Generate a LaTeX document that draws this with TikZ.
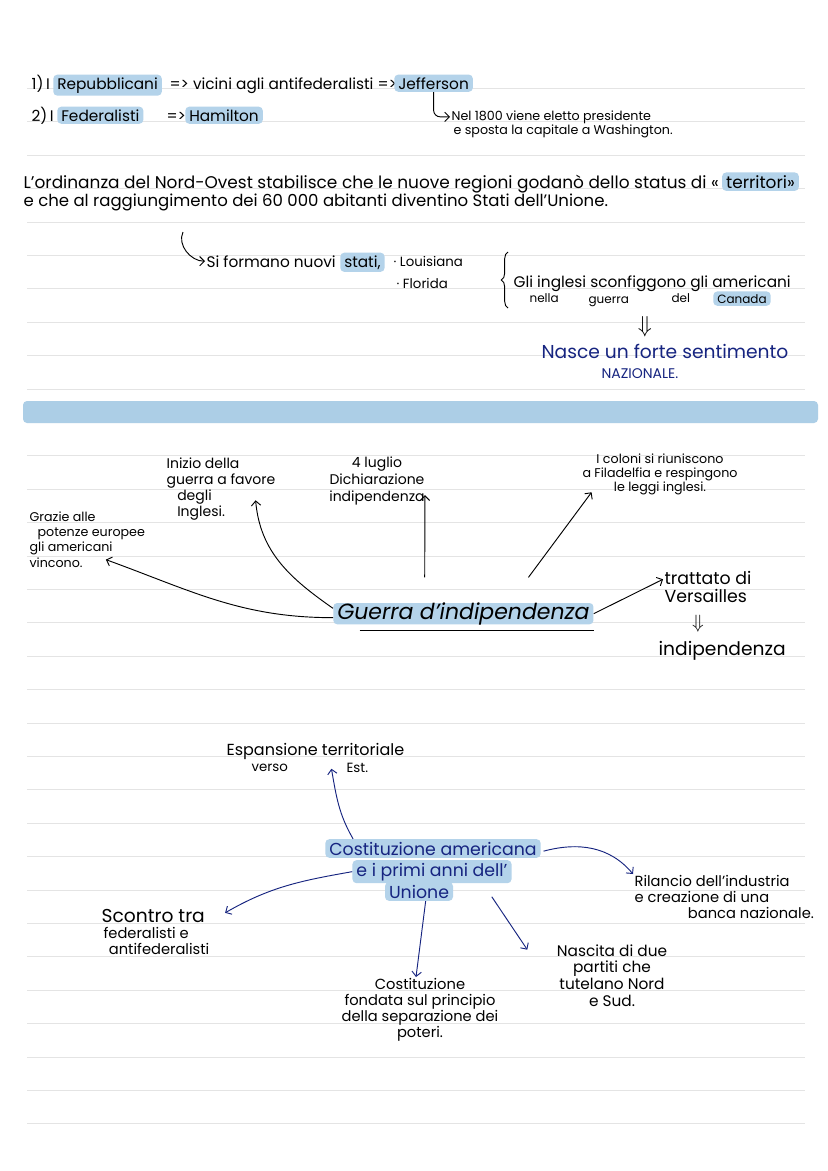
\documentclass[tikz,border=0pt]{standalone}
\usepackage{fontspec}
\setmainfont{Poppins}
\usetikzlibrary{positioning,arrows.meta,decorations.pathreplacing}
\definecolor{hlblue}{RGB}{180,211,234}
\definecolor{barblue}{RGB}{172,206,230}
\definecolor{inkblue}{RGB}{22,36,128}
\definecolor{ruled}{RGB}{228,228,228}
\tikzset{
  hand/.style={inner sep=1pt, font=\fontsize{11.5}{13}\selectfont},
  small/.style={inner sep=1pt, font=\fontsize{9.5}{10.5}\selectfont},
  marked/.style={fill=hlblue, rounded corners=3pt, inner xsep=3pt, inner ysep=2pt},
  ink/.style={text=inkblue},
  pen/.style={-{Straight Barb[length=3.5pt,width=7pt]}, line width=0.7pt},
  inkpen/.style={pen, draw=inkblue},
}

\begin{document}
\begin{tikzpicture}[x=0.75pt,y=0.75pt]
\useasboundingbox (0,0) rectangle (828,-1171);
\fill[white] (0,0) rectangle (828,-1171);
\foreach \k in {1,...,32}
  \draw[ruled, line width=0.6pt] (27,{-55-33.4*\k}) -- (805,{-55-33.4*\k});
\fill[barblue, rounded corners=3pt] (23,-401) rectangle (818,-423);

% partiti
\node[hand, anchor=base west] (one) at (30,-89) {1)\,I};
\node[hand, marked, anchor=base west] (repub) at (53,-89) {Repubblicani};
\node[hand, anchor=base west] (vicini) at (168,-89) {=> vicini agli antifederalisti =>};
\node[hand, marked, anchor=base west] (jeff) at (394,-89) {Jefferson};
\node[hand, anchor=base west] (two) at (30,-121) {2)\,I};
\node[hand, marked, anchor=base west] (feder) at (57,-121) {Federalisti};
\node[hand, anchor=base west] (arrtwo) at (165,-121) {=>};
\node[hand, marked, anchor=base west] (hamil) at (185,-121) {Hamilton};
\node[small, anchor=base west] (nelA) at (450,-120) {Nel 1800 viene eletto presidente};
\node[small, anchor=base west] (nelB) at (452,-134) {e sposta la capitale a Washington.};
\draw[pen, rounded corners=5pt] (jeff.south) |- (nelA.west);

% ordinanza
\node[hand, font=\fontsize{12.7}{14}\selectfont, anchor=base west] (ordA) at (22,-188) {L'ordinanza del Nord-Ovest stabilisce che le nuove regioni godanò dello status di «};
\node[hand, font=\fontsize{12.7}{14}\selectfont, marked, base right=1pt of ordA] (terr) {territori»};
\node[hand, font=\fontsize{12.4}{13}\selectfont, anchor=base west] (ordB) at (22,-206) {e che al raggiungimento dei 60 000 abitanti diventino Stati dell'Unione.};
\coordinate (sibrk) at (183,-232);
\node[hand, anchor=base west] (siform) at (205,-267) {Si formano nuovi};
\node[hand, marked, base right=2pt of siform] (stati) {stati,};
\node[hand, font=\fontsize{10}{11}\selectfont, anchor=base west] (louis) at (392,-266) {· Louisiana};
\node[hand, font=\fontsize{10}{11}\selectfont, anchor=base west] (flor) at (395,-288) {· Florida};
\draw[pen] (sibrk) to[out=-115,in=180] (siform.west);

% canada
\draw[line width=0.7pt, decorate, decoration={brace, amplitude=5pt}] (508,-308) -- (508,-252);
\node[hand, anchor=base west] (ingl) at (512,-287) {Gli inglesi sconfiggono gli americani};
\node[small, font=\fontsize{9}{10}\selectfont, anchor=base west] (nella) at (528,-302) {nella};
\node[small, font=\fontsize{9}{10}\selectfont, anchor=base west] (guerra) at (587,-303) {guerra};
\node[small, font=\fontsize{9}{10}\selectfont, anchor=base west] (delc) at (670,-302) {del};
\node[small, font=\fontsize{9}{10}\selectfont, marked, anchor=base west] (canada) at (713,-303) {Canada};
\node[font=\fontsize{16}{16}\selectfont] (dblA) at (645,-327) {$\Downarrow$};
\node[hand, ink, font=\fontsize{14}{16}\selectfont, anchor=base west] (nasce) at (540,-358) {Nasce un forte sentimento};
\node[hand, ink, font=\fontsize{10.5}{12}\selectfont, anchor=base west] (naz) at (600,-378) {NAZIONALE.};

% guerra d'indipendenza
\node[marked, font=\itshape\fontsize{16.5}{18}\selectfont, text height=10pt, text depth=2pt, anchor=base west] (indip) at (333,-619) {Guerra d'indipendenza};
\draw[line width=0.8pt] ([xshift=20pt,yshift=-4.5pt]indip.south west) -- ([yshift=-4.5pt]indip.south east);
\node[align=left, inner sep=1pt, font=\fontsize{9.5}{11.5}\selectfont, anchor=north west] (grazie) at (28,-510) {Grazie alle\\\hspace{6pt}potenze europee\\gli americani\\vincono.};
\node[align=left, inner sep=1pt, font=\fontsize{10.5}{12}\selectfont, anchor=north west] (inizio) at (165,-456) {Inizio della\\guerra a favore\\\hspace{8pt}degli\\\hspace{8pt}Inglesi.};
\node[align=center, inner sep=1pt, font=\fontsize{10.5}{13}\selectfont, anchor=north] (luglio) at (377,-455) {4 luglio\\Dichiarazione\\indipendenza};
\node[align=center, inner sep=1pt, font=\fontsize{9.5}{10.5}\selectfont, anchor=north] (coloni) at (660,-452) {I coloni si riuniscono\\a Filadelfia e respingono\\le leggi inglesi.};
\node[align=left, inner sep=1pt, font=\fontsize{13}{13.5}\selectfont, anchor=north west] (tratt) at (663,-570) {trattato di\\Versailles};
\node[font=\fontsize{15}{15}\selectfont] (dblB) at (698,-624) {$\Downarrow$};
\node[hand, font=\fontsize{14}{16}\selectfont, anchor=base west] (indi) at (657,-655) {indipendenza};
\draw[pen] ([yshift=-3pt]indip.west) to[out=180,in=-20] ([xshift=14pt,yshift=7pt]grazie.south);
\draw[pen] ([yshift=4pt]indip.west) to[out=145,in=-85] ([xshift=-16pt,yshift=16pt]inizio.south east);
\draw[pen] ([xshift=-29pt,yshift=19pt]indip.north) -- ([xshift=-1pt,yshift=9pt]luglio.south east);
\draw[pen] ([xshift=-49pt,yshift=19pt]indip.north east) -- ([xshift=8pt,yshift=3pt]coloni.south west);
\draw[pen] (indip.east) -- ([yshift=6pt]tratt.west);

% costituzione
\node[hand, font=\fontsize{12}{13}\selectfont, anchor=base west] (espan) at (225,-755) {Espansione territoriale};
\node[hand, font=\fontsize{10}{11}\selectfont, anchor=base west] (verso) at (250,-771) {verso};
\node[hand, font=\fontsize{10}{11}\selectfont, anchor=base west] (est) at (345,-772) {Est.};
\node[hand, ink, marked, font=\fontsize{13}{14}\selectfont, anchor=base] (costC) at (419,-898) {Unione};
\node[hand, ink, marked, font=\fontsize{13}{14}\selectfont, anchor=base] (costB) at (432,-876) {e i primi anni dell'};
\node[hand, ink, marked, font=\fontsize{13}{14}\selectfont, anchor=base] (costA) at (433,-855) {Costituzione americana};
\node[hand, font=\fontsize{14}{15}\selectfont, anchor=base west] (scontro) at (100,-922) {Scontro tra};
\node[align=left, inner sep=1pt, font=\fontsize{11}{12}\selectfont, anchor=north west] (scontroB) at (102,-926) {federalisti e\\\hspace{4pt}antifederalisti};
\node[align=center, inner sep=1pt, font=\fontsize{11}{12}\selectfont, anchor=north] (separ) at (420,-977) {Costituzione\\fondata sul principio\\della separazione dei\\poteri.};
\node[align=center, inner sep=1pt, font=\fontsize{11.5}{12.5}\selectfont, anchor=north] (nascita) at (612,-943) {Nascita di due\\partiti che\\tutelano Nord\\e Sud.};
\node[align=left, inner sep=1pt, font=\fontsize{11}{12}\selectfont, anchor=north west] (rilancio) at (633,-874) {Rilancio dell'industria\\e creazione di una\\\hspace{40pt}banca nazionale.};
\draw[inkpen] ([xshift=21pt]costA.north west) to[out=120,in=-80] ([xshift=12pt,yshift=-6pt]espan.south);
\draw[inkpen] (costB.west) to[out=190,in=30] ([xshift=14pt,yshift=2pt]scontro.east);
\draw[inkpen] ([xshift=5pt]costC.south) -- ([xshift=-3pt]separ.north);
\draw[inkpen] ([xshift=-15pt,yshift=-10pt]costB.south east) -- ([xshift=-21pt,yshift=-5pt]nascita.north west);
\draw[inkpen] ([xshift=2pt,yshift=-2pt]costA.east) to[out=15,in=130] (rilancio.north west);
\end{tikzpicture}
\end{document}
